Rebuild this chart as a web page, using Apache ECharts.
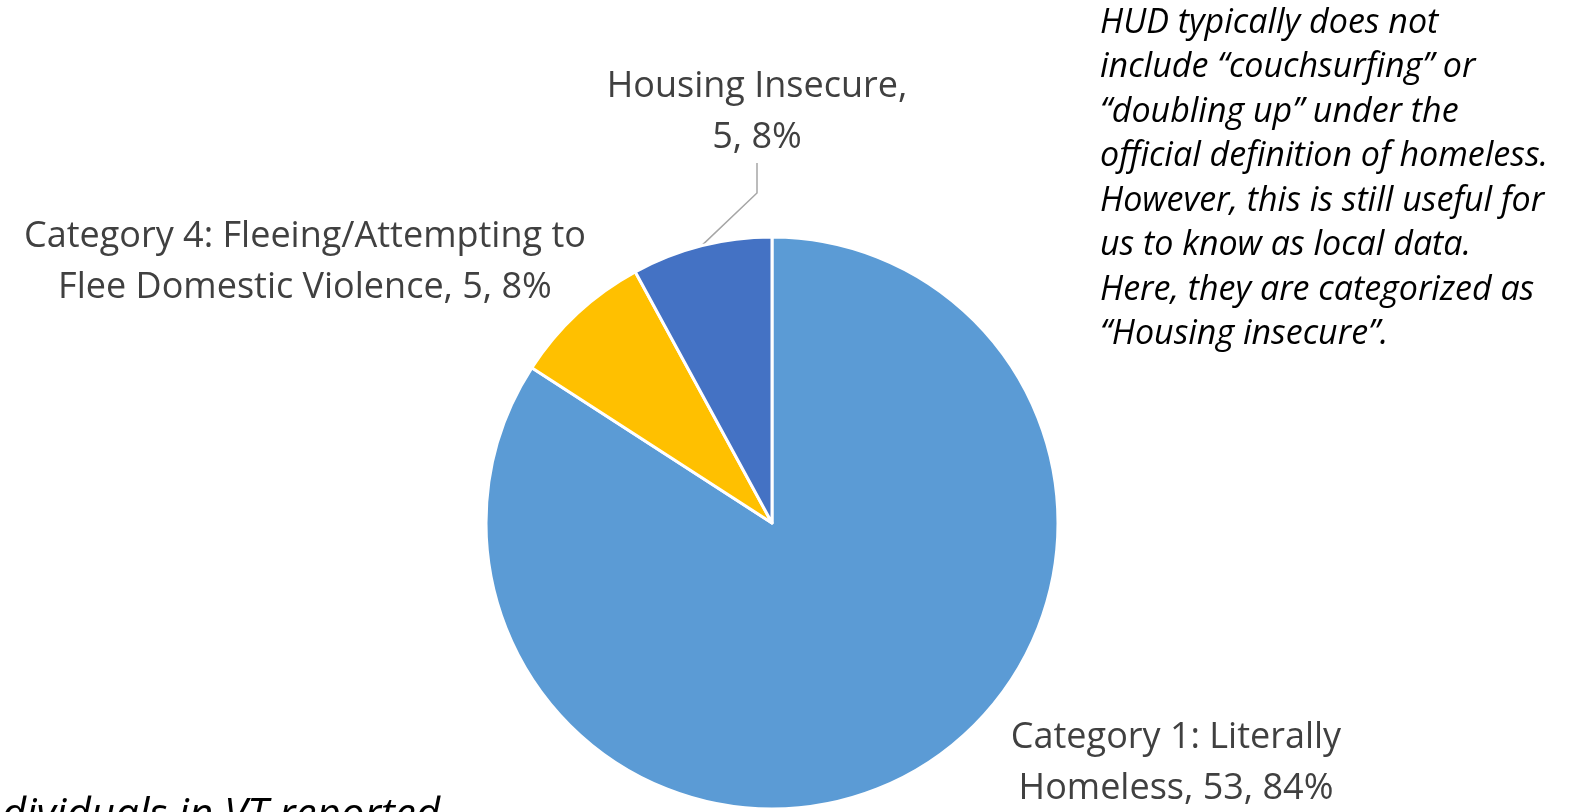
<!DOCTYPE html>
<html>
<head>
<meta charset="utf-8">
<script src="https://cdn.jsdelivr.net/npm/echarts@6/dist/echarts.min.js"></script>
<style>
  html, body { margin: 0; padding: 0; background: #fff; }
  #main { width: 1571px; height: 812px; }
</style>
</head>
<body>
<div id="main"></div>
<script>
var dom = document.getElementById('main');
var myChart = echarts.init(dom);

// data
var names = ['Category 1: Literally Homeless', 'Category 4: Fleeing/Attempting to Flee Domestic Violence', 'Housing Insecure'];
var values = [53, 5, 5];
var colors = ['#5B9BD5', '#FFC000', '#4472C4'];

// where the label text wraps
var firstLine = ['Category 1: Literally', 'Category 4: Fleeing/Attempting to', 'Housing Insecure,'];
var labelPos = [[1176, 763], [305, 262], [757, 112]];

var noteLines = [
    'HUD typically does not',
    'include \u201ccouchsurfing\u201d or',
    '\u201cdoubling up\u201d under the',
    'official definition of homeless.',
    'However, this is still useful for',
    'us to know as local data.',
    'Here, they are categorized as',
    '\u201cHousing insecure\u201d.'
];

var data = [];
for (var i = 0; i < names.length; i++) {
    data.push({
        name: names[i],
        value: values[i],
        itemStyle: { color: colors[i] },
        labelLine: { show: i == 2 }
    });
}

var option = {
    animation: false,
    series: [
        {
            type: 'pie',
            center: [772, 523],
            radius: 286,
            startAngle: 90,
            clockwise: true,
            percentPrecision: 0,
            data: data,
            itemStyle: {
                borderColor: '#ffffff',
                borderWidth: 3
            },
            label: {
                show: true,
                position: 'outside',
                fontFamily: 'Open Sans',
                fontSize: 36,
                lineHeight: 51,
                color: '#404040',
                align: 'center',
                overflow: 'none',
                formatter: function (p) {
                    var first = firstLine[p.dataIndex];
                    var rest = p.name.substring(first.replace(/,$/, '').length).trim();
                    var tail = (rest ? rest + ', ' : '') + p.value + ', ' + p.percent + '%';
                    return first + '\n' + tail;
                }
            },
            labelLine: {
                show: false,
                lineStyle: { color: '#a6a6a6', width: 1.5 }
            },
            labelLayout: function (params) {
                var pos = labelPos[params.dataIndex];
                return {
                    x: pos[0],
                    y: pos[1],
                    align: 'center',
                    verticalAlign: 'middle'
                };
            }
        }
    ],
    graphic: [
        {
            type: 'text',
            left: 1100,
            top: 1,
            style: {
                text: noteLines.join('\n'),
                font: 'italic 34px "Open Sans"',
                lineHeight: 44.5,
                fill: '#000000'
            }
        },
        {
            type: 'text',
            x: 440,
            y: 795,
            style: {
                text: 'Individuals in VT reported',
                font: 'italic 42px "Open Sans"',
                align: 'right',
                verticalAlign: 'top',
                fill: '#000000'
            }
        }
    ]
};

myChart.setOption(option);
</script>
</body>
</html>
